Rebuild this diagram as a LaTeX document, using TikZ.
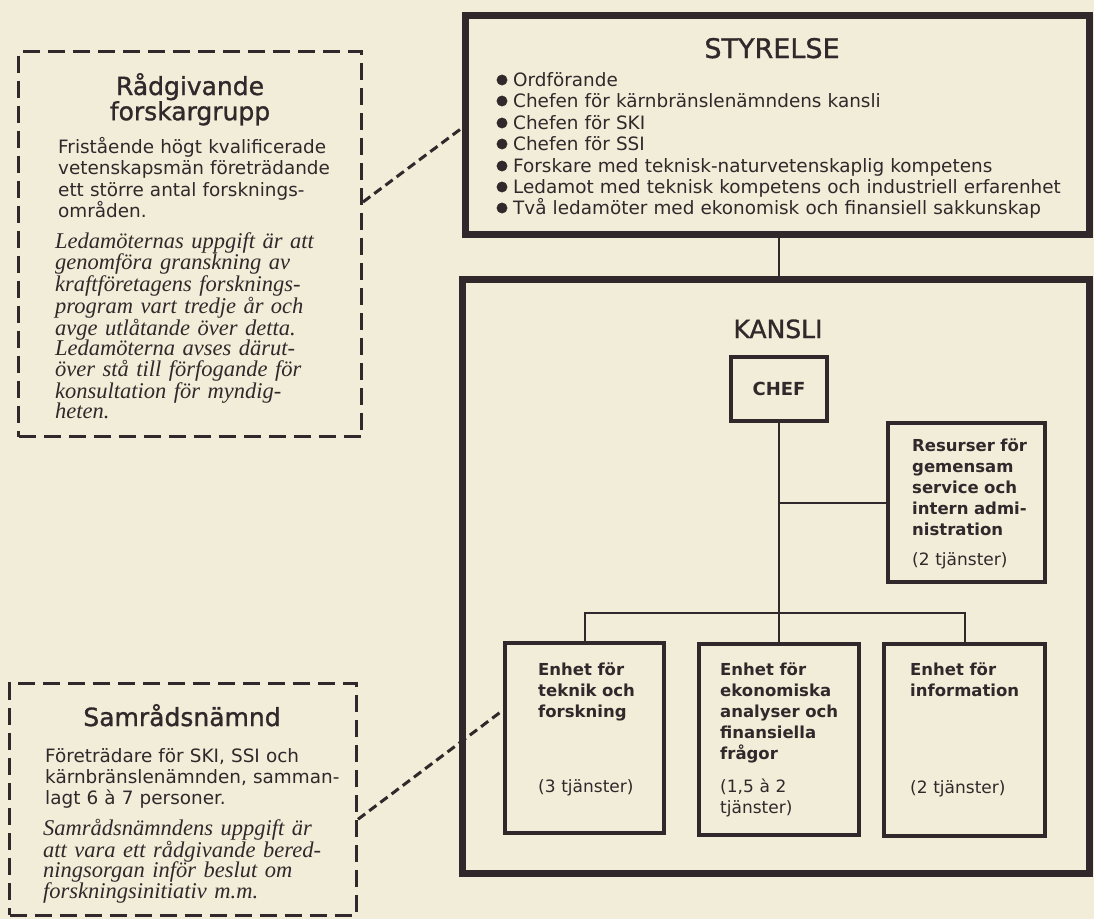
\documentclass[tikz,border=0pt]{standalone}
\usepackage{fontspec}
\setmainfont{DejaVu Sans}
\newfontfamily\halvfet{DejaVu Sans}[FakeBold=1.2]
\newfontfamily\kursiv{Liberation Serif}
\usetikzlibrary{positioning}
\definecolor{ink}{RGB}{48,40,42}
\definecolor{paper}{RGB}{241,237,216}
\tikzset{
  streck/.style={draw=ink, line width=3pt, dash pattern=on 17pt off 8pt, inner sep=0pt},
  tjock/.style={draw=ink, line width=7pt, inner sep=0pt},
  enhet/.style={draw=ink, text=ink, line width=3.5pt, inner sep=0pt},
  lank/.style={draw=ink, line width=2pt},
  streckl/.style={draw=ink, line width=3pt, dash pattern=on 9pt off 5pt},
  rubrik/.style={text=ink, anchor=base, inner sep=0pt, text width=330pt, align=center},
  brod/.style={text=ink, anchor=base west, inner sep=0pt, text width=#1, align=left},
  brod/.default=300pt
}
\begin{document}
\begin{tikzpicture}[x=1pt,y=-1pt]
\fill[paper] (0,0) rectangle (1094,919);
\useasboundingbox (0,0) rectangle (1094,919);

% Raadgivande forskargrupp
\node[streck, minimum width=343pt, minimum height=385pt] (radgiv) at (190,244) {};
\node[rubrik, font=\halvfet\fontsize{25}{24}\selectfont] (radgivrub) at (190,95) {Rådgivande\\forskargrupp};
\node[brod, font=\fontsize{18.4}{21.5}\selectfont] (radgivtext) at (58,153)
  {Fristående högt kvalificerade\\vetenskapsmän företrädande\\ett större antal forsknings-\\områden.};
\node[brod, font=\kursiv\itshape\fontsize{22.5}{20.6}\selectfont] (radgivuppg) at (55,248)
  {Ledamöternas uppgift är att\\genomföra granskning av\\kraftföretagens forsknings-\\program vart tredje år och\\avge utlåtande över detta.\\Ledamöterna avses därut-\\över stå till förfogande för\\konsultation för myndig-\\heten.};

% Samraadsnaemnd
\node[streck, minimum width=347pt, minimum height=231.5pt] (samrad) at (183,799.25) {};
\node[rubrik, font=\halvfet\fontsize{25}{24}\selectfont] (samradrub) at (182,726) {Samrådsnämnd};
\node[brod, font=\fontsize{18.4}{21}\selectfont] (samradtext) at (45,762)
  {Företrädare för SKI, SSI och\\kärnbränslenämnden, samman-\\lagt 6 à 7 personer.};
\node[brod, font=\kursiv\itshape\fontsize{22.5}{20.7}\selectfont] (samraduppg) at (43,835)
  {Samrådsnämndens uppgift är\\att vara ett rådgivande bered-\\ningsorgan inför beslut om\\forskningsinitiativ m.m.};

% Styrelse
\node[tjock, minimum width=624pt, minimum height=219pt] (styrelse) at (777.5,125) {};
\node[rubrik, font=\halvfet\fontsize{27}{27}\selectfont] (styrelserub) at (772,58) {STYRELSE};
\filldraw[ink] (502,80) circle (5.2pt);
\node[brod=570pt, font=\fontsize{18.4}{21.4}\selectfont] (ordf) at (513,86) {Ordförande};
\filldraw[ink] (502,101) circle (5.2pt);
\node[brod=570pt, font=\fontsize{18.4}{21.4}\selectfont] (chefkbn) at (513,107) {Chefen för kärnbränslenämndens kansli};
\filldraw[ink] (502,123) circle (5.2pt);
\node[brod=570pt, font=\fontsize{18.4}{21.4}\selectfont] (chefski) at (513,129) {Chefen för SKI};
\filldraw[ink] (502,144) circle (5.2pt);
\node[brod=570pt, font=\fontsize{18.4}{21.4}\selectfont] (chefssi) at (513,150) {Chefen för SSI};
\filldraw[ink] (502,166) circle (5.2pt);
\node[brod=570pt, font=\fontsize{18.4}{21.4}\selectfont] (forskare) at (513,172) {Forskare med teknisk-naturvetenskaplig kompetens};
\filldraw[ink] (502,187) circle (5.2pt);
\node[brod=570pt, font=\fontsize{18.4}{21.4}\selectfont] (ledamot) at (513,193) {Ledamot med teknisk kompetens och industriell erfarenhet};
\filldraw[ink] (502,208) circle (5.2pt);
\node[brod=570pt, font=\fontsize{18.4}{21.4}\selectfont] (tvaled) at (513,214) {Två ledamöter med ekonomisk och finansiell sakkunskap};

% Kansli
\node[tjock, minimum width=627.5pt, minimum height=594pt] (kansli) at (775.75,576.5) {};
\node[rubrik, font=\halvfet\fontsize{25}{25}\selectfont] (kanslirub) at (778,338) {KANSLI};
\node[enhet, minimum width=96pt, minimum height=64pt, font=\bfseries\fontsize{18}{18}\selectfont] (chef) at (779,389) {CHEF};
\node[enhet, minimum width=157pt, minimum height=159pt] (resurser) at (966.5,502.5) {};
\node[enhet, minimum width=159pt, minimum height=190pt] (teknik) at (584.5,738) {};
\node[enhet, minimum width=160pt, minimum height=191pt] (ekonomi) at (779,739.5) {};
\node[enhet, minimum width=161pt, minimum height=192pt] (info) at (964.5,740) {};

\node[brod=140pt, font=\bfseries\fontsize{16.5}{21.2}\selectfont] (resurstext) at (912,451)
  {Resurser för\\gemensam\\service och\\intern admi-\\nistration};
\node[brod=140pt, font=\fontsize{17}{21}\selectfont] (resurstj) at (912,565) {(2 tjänster)};
\node[brod=140pt, font=\bfseries\fontsize{16.5}{21.2}\selectfont] (tekniktext) at (538,675)
  {Enhet för\\teknik och\\forskning};
\node[brod=140pt, font=\fontsize{17}{21}\selectfont] (tekniktj) at (538,792) {(3 tjänster)};
\node[brod=140pt, font=\bfseries\fontsize{16.5}{21.2}\selectfont] (ekonomitext) at (720,675)
  {Enhet för\\ekonomiska\\analyser och\\finansiella\\frågor};
\node[brod=140pt, font=\fontsize{17}{21}\selectfont] (ekonomitj) at (720,792) {(1,5 à 2\\tjänster)};
\node[brod=140pt, font=\bfseries\fontsize{16.5}{21.2}\selectfont] (infotext) at (910,675)
  {Enhet för\\information};
\node[brod=140pt, font=\fontsize{17}{21}\selectfont] (infotj) at (910,793) {(2 tjänster)};

% linjer
\coordinate (buss) at (779,613);
\draw[lank] (chef.north |- styrelse.south) -- (chef.north |- kansli.north);
\draw[lank] (chef.south) -- (ekonomi.north);
\draw[lank] (chef.south |- resurser.west) -- (resurser.west);
\draw[lank] (teknik.north) |- (buss) -| (info.north);
\draw[streckl] ([yshift=42pt]radgiv.east) -- ([yshift=-3pt]styrelse.west);
\draw[streckl] ([yshift=-20pt]samrad.east) -- ([yshift=28pt]teknik.west);
\end{tikzpicture}
\end{document}
